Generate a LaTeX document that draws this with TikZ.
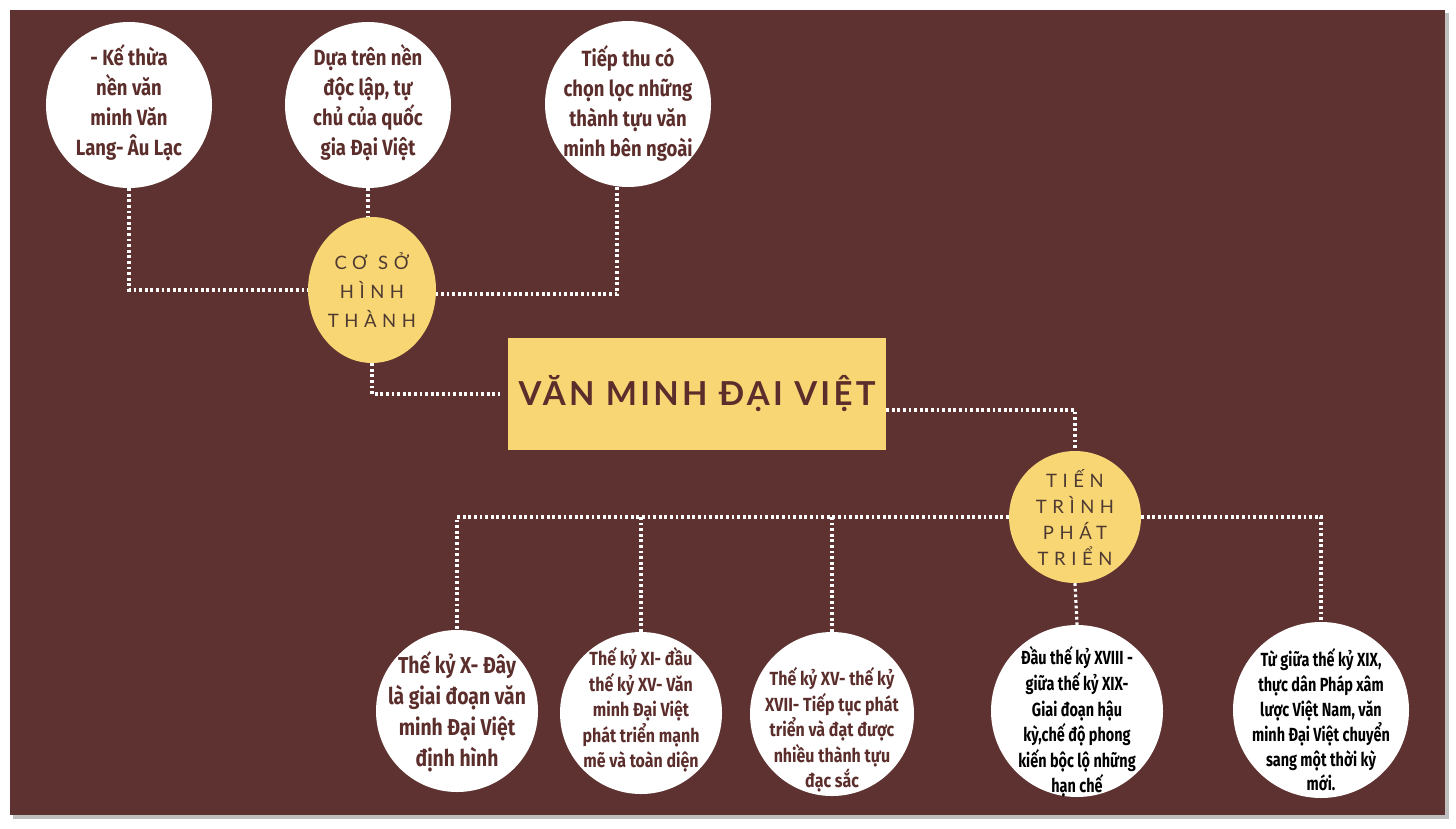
\documentclass[tikz,border=0pt]{standalone}
\usepackage{fontspec}
\setmainfont{Fira Sans}
\usetikzlibrary{shapes.geometric}
\newfontfamily\circfont[FakeStretch=0.84]{Fira Sans}
\newfontfamily\narrowfont[FakeStretch=0.76]{Fira Sans}
\newfontfamily\capsfont[LetterSpace=30]{Lato}
\newfontfamily\titlefont[LetterSpace=10]{Lato}
\definecolor{bgbrown}{HTML}{5D3230}
\definecolor{ybox}{HTML}{F8D674}
\definecolor{tbrown}{HTML}{5B2E2C}
\definecolor{ycap}{HTML}{4E3A32}

\tikzset{
  dots/.style={white, line width=3.2pt, dash pattern=on 2.8pt off 2.8pt},
  bubble/.style={circle, fill=white, inner sep=0pt},
  btext/.style 2 args={align=center, text=tbrown, inner sep=0pt,
    font=\circfont\bfseries\fontsize{#1}{#2}\selectfont},
  yball/.style={fill=ybox, inner sep=0pt, align=center, text=ycap,
    font=\capsfont\fontsize{18.5}{29}\selectfont},
}

\begin{document}
\begin{tikzpicture}[x=1pt, y=-1pt]
    \useasboundingbox[fill=white] (0,0) rectangle (1456,828);
    % card
    \fill[black!25] (13,13) rectangle (1449,819);
    \fill[bgbrown] (10,10) rectangle (1445,815);

    % base (top row)
    \node[bubble, minimum size=166pt] (base1) at (129,105) {};
    \node[btext={22}{30}] (base1t) at (129,103)
        {- Kế thừa\\ nền văn\\ minh Văn\\ Lang- Âu Lạc};
    \node[bubble, minimum size=166pt] (base2) at (368,105) {};
    \node[btext={22}{30}] (base2t) at (368,103)
        {Dựa trên nền\\ độc lập, tự\\ chủ của quốc\\ gia Đại Việt};
    \node[bubble, minimum size=166pt] (base3) at (628,104) {};
    \node[btext={22}{30}] (base3t) at (628,103)
        {Tiếp thu có\\ chọn lọc những\\ thành tựu văn\\ minh bên ngoài};

    \node[yball, ellipse, minimum width=128pt, minimum height=146pt] (coso) at (372,290)
        {CƠ SỞ\\ HÌNH\\ THÀNH};

    % title
    \node[fill=ybox, minimum width=378pt, minimum height=112pt, text=tbrown,
          font=\titlefont\bfseries\fontsize{33}{40}\selectfont] (title) at (697,394)
        {VĂN MINH ĐẠI VIỆT};

    \node[yball, circle, minimum size=132pt, font=\capsfont\fontsize{18.5}{26}\selectfont]
        (tientrinh) at (1075,517) {TIẾN\\ TRÌNH\\ PHÁT\\ TRIỂN};

    % periods (bottom row)
    \node[bubble, minimum size=162pt] (p1) at (457,711) {};
    \node[btext={23}{31}] (p1t) at (457,712)
        {Thế kỷ X- Đây\\ là giai đoạn văn\\ minh Đại Việt\\ định hình};
    \node[bubble, minimum size=162pt] (p2) at (641,713) {};
    \node[btext={19}{25.5}] (p2t) at (641,710)
        {Thế kỷ XI- đầu\\ thế kỷ XV- Văn\\ minh Đại Việt\\ phát triển mạnh\\ mẽ và toàn diện};
    \node[bubble, minimum size=164pt] (p3) at (832,714) {};
    \node[btext={19}{25.5}] (p3t) at (832,730)
        {Thế kỷ XV- thế kỷ\\ XVII- Tiếp tục phát\\ triển và đạt được\\ nhiều thành tựu\\ đạc sắc};
    \node[bubble, minimum size=172pt] (p4) at (1077,711) {};
    \node[btext={19}{25.6}, text=black, font=\narrowfont\bfseries\fontsize{19}{25.6}\selectfont]
        (p4t) at (1077,722)
        {Đầu thế kỷ XVIII -\\ giữa thế kỷ XIX-\\ Giai đoạn hậu\\ kỳ,chế độ phong\\ kiến bộc lộ những\\ hạn chế};
    \node[bubble, minimum size=176pt] (p5) at (1321,710) {};
    \node[btext={19}{24.8}, text=black, font=\narrowfont\bfseries\fontsize{19}{24.8}\selectfont]
        (p5t) at (1321,720)
        {Từ giữa thế kỷ XIX,\\ thực dân Pháp xâm\\ lược Việt Nam, văn\\ minh Đại Việt chuyển\\ sang một thời kỳ\\ mới.};

    % dotted connectors
    \draw[dots] (base1.south) |- (coso.west);
    \draw[dots] (base2.south) -- (base2.south |- coso.north);
    \draw[dots] ([xshift=-11pt]base3.south) |- ([yshift=-4pt]coso.east);
    \draw[dots] (coso.south) |- ([xshift=-8pt]title.west);
    \draw[dots] ([yshift=-16pt]title.east) -| (tientrinh.north);
    \draw[dots] (tientrinh.west) -| (p1.north);
    \draw[dots] (tientrinh.west -| p2.north) -- (p2.north);
    \draw[dots] (tientrinh.west -| p3.north) -- (p3.north);
    \draw[dots] (tientrinh.south) -- (p4.north);
    \draw[dots] (tientrinh.east) -| (p5.north);
\end{tikzpicture}
\end{document}
